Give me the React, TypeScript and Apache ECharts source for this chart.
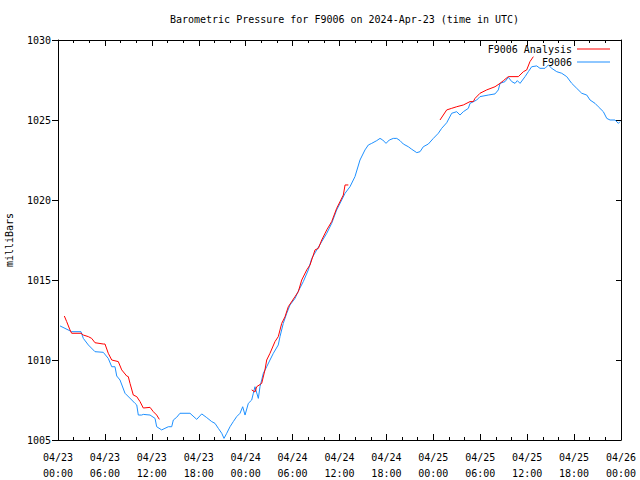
import React, { useEffect, useRef } from "react";
import * as echarts from "echarts";

const xTickLabels = [
  "04/23\n00:00", "04/23\n06:00", "04/23\n12:00", "04/23\n18:00",
  "04/24\n00:00", "04/24\n06:00", "04/24\n12:00", "04/24\n18:00",
  "04/25\n00:00", "04/25\n06:00", "04/25\n12:00", "04/25\n18:00",
  "04/26\n00:00",
];

// hours since 2024-04-23 00:00 UTC
const stationHours = [
  0.26, 1.75, 2.94, 3.24, 3.88, 4.73, 5.79, 6.43, 6.87, 7.29, 7.51, 7.93, 8.57, 9.43, 9.85, 10.07,
  10.27, 10.7, 10.91, 11.77, 12.41, 12.62, 13.26, 13.68, 14.11, 14.54, 14.75, 15.18, 15.6, 16.88,
  17.74, 18.38, 19.02, 19.66, 20.08, 20.5, 20.94, 21.23, 21.58, 22.0, 22.42, 22.85, 23.28, 23.62,
  23.92, 24.34, 24.77, 24.98, 25.19, 25.62, 25.83, 26.05, 26.26, 26.69, 27.11, 27.54, 28.17, 28.39,
  28.81, 29.25, 29.67, 30.31, 30.73, 31.37, 32.01, 32.45, 33.09, 33.73, 34.37, 35.0, 35.64, 36.28,
  36.71, 37.34, 37.98, 38.62, 39.26, 39.69, 40.12, 40.76, 41.18, 41.53, 41.95, 42.37, 42.88, 43.32,
  43.74, 44.16, 44.8, 45.24, 45.88, 46.3, 46.72, 47.36, 48.0, 48.64, 49.07, 49.71, 50.35, 50.99,
  51.41, 51.84, 52.48, 52.69, 53.55, 53.97, 55.03, 55.89, 56.31, 56.53, 57.17, 57.59, 58.03, 58.45,
  58.74, 59.09, 59.73, 60.15, 60.58, 61.22, 61.64, 62.28, 62.71, 63.14, 63.78, 64.42, 65.06, 65.7,
  66.34, 66.98, 67.62, 68.04, 68.68, 69.1, 69.74, 70.18, 70.6, 71.24, 71.67, 71.88,
];
const stationValues = [
  1012.13, 1011.77, 1011.77, 1011.35, 1010.94, 1010.52, 1010.48, 1010.1, 1009.58, 1009.58, 1009.0,
  1008.75, 1007.92, 1007.5, 1007.29, 1007.19, 1006.56, 1006.56, 1006.6, 1006.56, 1006.35, 1005.83,
  1005.63, 1005.73, 1005.83, 1005.83, 1006.25, 1006.42, 1006.67, 1006.67, 1006.29, 1006.63, 1006.4,
  1006.15, 1006.04, 1005.73, 1005.42, 1005.1, 1005.42, 1005.83, 1006.15, 1006.46, 1006.67, 1007.08,
  1006.56, 1007.29, 1007.5, 1007.92, 1008.33, 1007.6, 1008.33, 1008.75, 1009.17, 1009.58, 1010.0,
  1010.42, 1010.94, 1011.46, 1012.29, 1012.92, 1013.44, 1013.85, 1014.3, 1014.9, 1015.63, 1016.35,
  1016.88, 1017.4, 1017.92, 1018.54, 1019.38, 1020.0, 1020.42, 1020.83, 1021.46, 1022.5, 1023.13,
  1023.44, 1023.54, 1023.71, 1023.85, 1023.75, 1023.54, 1023.75, 1023.85, 1023.85, 1023.71, 1023.5,
  1023.33, 1023.17, 1022.96, 1023.02, 1023.33, 1023.5, 1023.85, 1024.17, 1024.48, 1024.83, 1025.42,
  1025.52, 1025.31, 1025.52, 1025.73, 1026.04, 1026.25, 1026.46, 1026.56, 1026.63, 1026.88, 1027.29,
  1027.4, 1027.67, 1027.4, 1027.29, 1027.46, 1027.29, 1027.71, 1028.02, 1028.33, 1028.38, 1028.23,
  1028.23, 1028.44, 1028.23, 1028.02, 1027.92, 1027.71, 1027.29, 1026.98, 1026.67, 1026.56, 1026.25,
  1026.04, 1025.83, 1025.52, 1025.1, 1025.0, 1025.0, 1024.79, 1024.9,
];

// null marks a gap between analysis segments
const analysisHours = [
  0.81, 1.11, 1.53, 1.75, 2.94, 3.24, 3.88, 4.31, 4.73, 5.79, 6.01, 6.43, 6.87, 7.71, 8.15, 8.79,
  8.99, 9.21, 9.63, 10.07, 10.49, 10.91, 11.77, 12.19, 12.62, 12.96,
  18.0,
  24.77, 25.19, 25.41, 26.05, 26.47, 26.69, 27.11, 27.75, 28.17, 28.61, 29.03, 29.45, 30.31, 30.73,
  31.17, 31.81, 32.23, 32.87, 33.3, 33.73, 34.37, 35.0, 35.64, 36.49, 36.71, 37.13,
  43.0,
  48.85, 49.71, 50.35, 50.99, 51.84, 52.69, 53.11, 53.33, 53.97, 54.82, 55.89, 56.53, 56.96, 57.59,
  58.87, 59.52, 59.94, 60.36, 60.79,
];
const analysisValues: (number | null)[] = [
  1012.75, 1012.4, 1011.88, 1011.67, 1011.67, 1011.56, 1011.46, 1011.35, 1011.08, 1011.0, 1011.0,
  1010.42, 1010.0, 1009.9, 1009.38, 1009.0, 1008.96, 1008.54, 1007.81, 1007.71, 1007.4, 1007.0,
  1007.04, 1006.77, 1006.56, 1006.29,
  null,
  1008.13, 1008.0, 1008.33, 1008.54, 1009.38, 1010.0, 1010.42, 1011.15, 1011.46, 1012.29, 1012.7,
  1013.33, 1013.96, 1014.27, 1015.0, 1015.63, 1015.94, 1016.88, 1016.98, 1017.5, 1018.13, 1018.65,
  1019.48, 1020.31, 1020.94, 1020.94,
  null,
  1025.0, 1025.63, 1025.73, 1025.83, 1025.94, 1026.15, 1026.15, 1026.35, 1026.67, 1026.88, 1027.08,
  1027.29, 1027.46, 1027.71, 1027.71, 1028.02, 1028.13, 1028.65, 1028.96,
];

const FONT = "DejaVu Sans Mono";

export default function App() {
  const ref = useRef<HTMLDivElement>(null);
  useEffect(() => {
    if (!ref.current) return;
    const chart = echarts.init(ref.current, undefined, { renderer: "svg" });
    const station = stationHours.map((h, i) => [h, stationValues[i]]);
    const analysis = analysisHours.map((h, i) => [h, analysisValues[i]]);
    const xBase = {
      type: "value" as const,
      min: 0,
      max: 72,
      interval: 6,
      axisLine: { show: true, onZero: false, lineStyle: { color: "#000", width: 1 } },
      axisTick: { show: true, inside: true, length: 6, lineStyle: { color: "#000" } },
      minorTick: { show: true, splitNumber: 3, length: 3, lineStyle: { color: "#000" } },
      splitLine: { show: false },
    };
    const yBase = {
      type: "value" as const,
      min: 1005,
      max: 1030,
      interval: 5,
      axisLine: { show: true, onZero: false, lineStyle: { color: "#000", width: 1 } },
      splitLine: { show: false },
    };
    chart.setOption({
      animation: false,
      backgroundColor: "#fff",
      title: {
        text: "Barometric Pressure for F9006 on 2024-Apr-23 (time in UTC)",
        left: 339.5,
        textAlign: "center",
        top: 9,
        textStyle: { fontFamily: FONT, fontSize: 10, fontWeight: "normal", color: "#000" },
      },
      legend: {
        orient: "vertical",
        align: "right",
        right: 25,
        top: 38,
        itemGap: 1,
        itemWidth: 33,
        itemHeight: 1,
        icon: "rect",
        textStyle: { fontFamily: FONT, fontSize: 10, color: "#000", lineHeight: 12 },
        data: [
          { name: "F9006 Analysis", itemStyle: { color: "#ff0000" } },
          { name: "F9006", itemStyle: { color: "#1e90ff" } },
        ],
      },
      grid: { left: 58, right: 19, top: 40, bottom: 40, containLabel: false, outerBoundsMode: "none" },
      xAxis: [
        {
          ...xBase,
          position: "bottom",
          axisLabel: {
            show: true,
            margin: 9,
            lineHeight: 16,
            fontFamily: FONT,
            fontSize: 10,
            color: "#000",
            formatter: (v: number) => xTickLabels[Math.round(v / 6)] ?? "",
          },
        },
        { ...xBase, position: "top", axisLabel: { show: false } },
      ],
      yAxis: [
        {
          ...yBase,
          position: "left",
          name: "milliBars",
          nameLocation: "middle",
          nameRotate: 90,
          nameGap: 44,
          nameTextStyle: { fontFamily: FONT, fontSize: 10, color: "#000" },
          axisTick: { show: true, inside: false, length: 6, lineStyle: { color: "#000" } },
          axisLabel: {
            show: true,
            margin: 7,
            fontFamily: FONT,
            fontSize: 10,
            color: "#000",
            formatter: (v: number) => String(v),
          },
        },
        {
          ...yBase,
          position: "right",
          axisTick: { show: true, inside: true, length: 5, lineStyle: { color: "#000" } },
          axisLabel: { show: false },
        },
      ],
      series: [
        {
          name: "F9006 Analysis",
          type: "line",
          data: analysis,
          symbol: "none",
          connectNulls: false,
          lineStyle: { color: "#ff0000", width: 1 },
          itemStyle: { color: "#ff0000" },
          z: 3,
        },
        {
          name: "F9006",
          type: "line",
          data: station,
          symbol: "none",
          lineStyle: { color: "#1e90ff", width: 1 },
          itemStyle: { color: "#1e90ff" },
          z: 2,
        },
      ],
    });
    return () => chart.dispose();
  }, []);
  return (
    <div
      ref={ref}
      style={{ position: "fixed", left: 0, top: 0, width: 640, height: 480, background: "#fff" }}
    />
  );
}
